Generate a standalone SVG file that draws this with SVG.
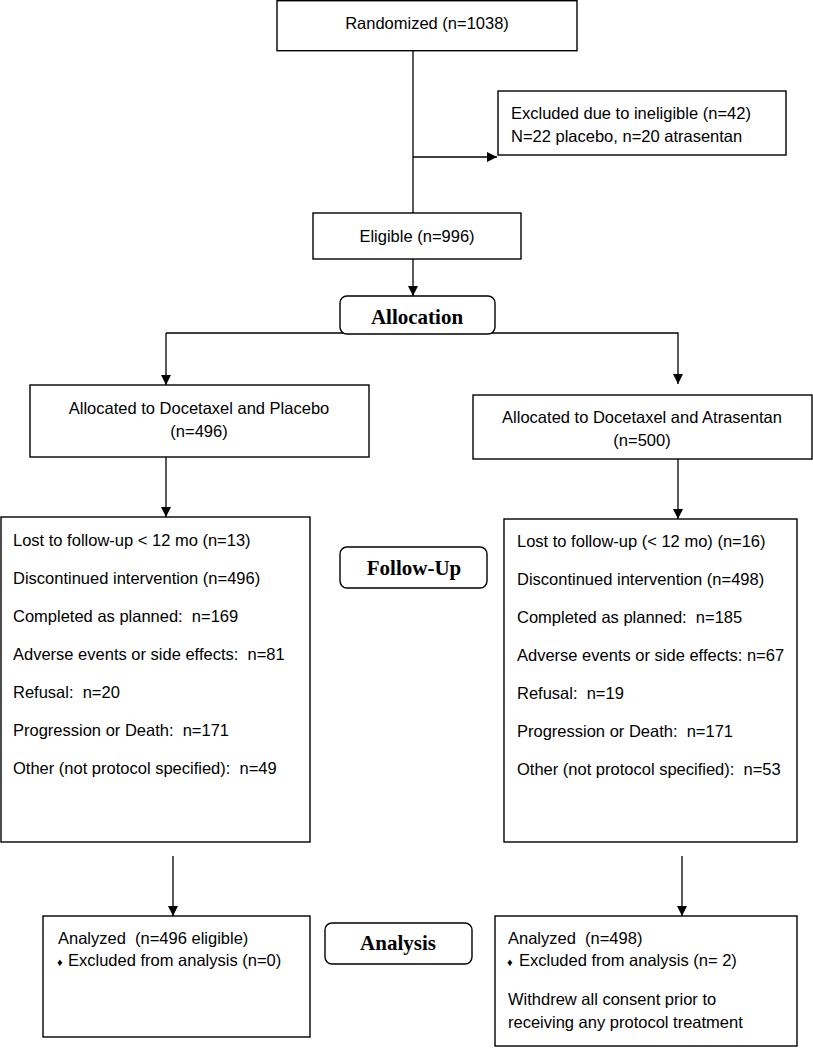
<svg xmlns="http://www.w3.org/2000/svg" width="813" height="1050" viewBox="0 0 813 1050">
<style>
.box{fill:#fff;stroke:#000;stroke-width:1.4}
.rbox{fill:#fff;stroke:#000;stroke-width:1.4}
.t{font-family:"Liberation Sans",Arial,sans-serif;font-size:16.5px;fill:#000;white-space:pre}
.c{text-anchor:middle}
.h{font-family:"Liberation Serif","Times New Roman",serif;font-size:21px;font-weight:bold;text-anchor:middle;fill:#000}
.ln{stroke:#000;stroke-width:1.3;fill:none}
.b{font-size:11px}
</style>
<defs>
<marker id="ah" markerWidth="10" markerHeight="10" refX="10" refY="5" orient="auto" markerUnits="userSpaceOnUse">
<path d="M0,0 L10,5 L0,10 Z" fill="#000"/>
</marker>
</defs>
<rect width="813" height="1050" fill="#fff"/>
<g id="connectors">
<line class="ln" x1="413" y1="51" x2="413" y2="213"/>
<line class="ln" x1="413" y1="157" x2="497" y2="157" marker-end="url(#ah)"/>
<line class="ln" x1="413" y1="259" x2="413" y2="296" marker-end="url(#ah)"/>
<polyline class="ln" points="166,333 678,333 678,384" marker-end="url(#ah)"/>
<line class="ln" x1="166" y1="333" x2="166" y2="385" marker-end="url(#ah)"/>
<line class="ln" x1="166" y1="457" x2="166" y2="517" marker-end="url(#ah)"/>
<line class="ln" x1="678" y1="459" x2="678" y2="519" marker-end="url(#ah)"/>
<line class="ln" x1="173" y1="856" x2="173" y2="916" marker-end="url(#ah)"/>
<line class="ln" x1="682" y1="856" x2="682" y2="916" marker-end="url(#ah)"/>
</g>
<g id="randomized">
<rect class="box" x="277" y="0.7" width="300" height="50"/>
<text class="t c" x="427" y="29">Randomized (n=1038)</text>
</g>
<g id="excluded">
<rect class="box" x="498" y="91" width="288" height="64"/>
<text class="t" x="511" y="119">Excluded due to ineligible (n=42)</text>
<text class="t" x="511" y="142">N=22 placebo, n=20 atrasentan</text>
</g>
<g id="eligible">
<rect class="box" x="313" y="213" width="208" height="46"/>
<text class="t c" x="417" y="242">Eligible (n=996)</text>
</g>
<g id="allocation">
<rect class="rbox" x="340" y="296" width="155" height="38" rx="7"/>
<text class="h" x="417" y="324">Allocation</text>
</g>
<g id="alloc-placebo">
<rect class="box" x="30" y="385" width="339" height="72"/>
<text class="t c" x="199" y="414">Allocated to Docetaxel and Placebo</text>
<text class="t c" x="199" y="437">(n=496)</text>
</g>
<g id="alloc-atrasentan">
<rect class="box" x="473" y="395" width="339" height="64"/>
<text class="t c" x="642" y="423">Allocated to Docetaxel and Atrasentan</text>
<text class="t c" x="642" y="446">(n=500)</text>
</g>
<g id="followup-placebo">
<rect class="box" x="1" y="517" width="309" height="325"/>
<text class="t" x="13" y="546">Lost to follow-up &lt; 12 mo (n=13)</text>
<text class="t" x="13" y="584">Discontinued intervention (n=496)</text>
<text class="t" x="13" y="622">Completed as planned:  n=169</text>
<text class="t" x="13" y="660">Adverse events or side effects:  n=81</text>
<text class="t" x="13" y="698">Refusal:  n=20</text>
<text class="t" x="13" y="736">Progression or Death:  n=171</text>
<text class="t" x="13" y="774">Other (not protocol specified):  n=49</text>
</g>
<g id="followup">
<rect class="rbox" x="340" y="547" width="147" height="41" rx="7"/>
<text class="h" x="414" y="575">Follow-Up</text>
</g>
<g id="followup-atrasentan">
<rect class="box" x="504" y="519" width="293" height="323"/>
<text class="t" x="517" y="547">Lost to follow-up (&lt; 12 mo) (n=16)</text>
<text class="t" x="517" y="585">Discontinued intervention (n=498)</text>
<text class="t" x="517" y="623">Completed as planned:  n=185</text>
<text class="t" x="517" y="661">Adverse events or side effects: n=67</text>
<text class="t" x="517" y="699">Refusal:  n=19</text>
<text class="t" x="517" y="737">Progression or Death:  n=171</text>
<text class="t" x="517" y="775">Other (not protocol specified):  n=53</text>
</g>
<g id="analyzed-placebo">
<rect class="box" x="43" y="916" width="267" height="121"/>
<text class="t" x="58" y="944">Analyzed  (n=496 eligible)</text>
<text class="t" x="57" y="966"><tspan class="b">♦</tspan><tspan x="68">Excluded from analysis (n=0)</tspan></text>
</g>
<g id="analysis">
<rect class="rbox" x="325" y="923" width="147" height="41" rx="7"/>
<text class="h" x="398" y="950">Analysis</text>
</g>
<g id="analyzed-atrasentan">
<rect class="box" x="495" y="916" width="302" height="130"/>
<text class="t" x="508" y="944">Analyzed  (n=498)</text>
<text class="t" x="507" y="966"><tspan class="b">♦</tspan><tspan x="519">Excluded from analysis (n= 2)</tspan></text>
<text class="t" x="508" y="1005">Withdrew all consent prior to</text>
<text class="t" x="508" y="1028">receiving any protocol treatment</text>
</g>
</svg>
